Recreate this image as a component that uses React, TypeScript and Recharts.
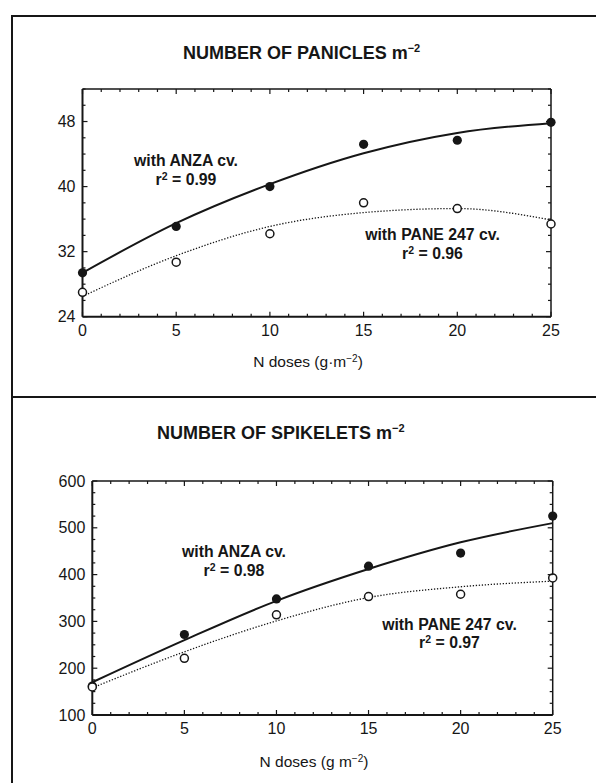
import { ComposedChart, Line, Scatter, XAxis, YAxis } from "recharts";

// N doses (g m-2)
const doses = [0, 5, 10, 15, 20, 25];

// panicles m-2 (points + fitted curves)
const anzaPanicles = [29.4, 35.1, 40.0, 45.2, 45.7, 47.9];
const panePanicles = [27.0, 30.7, 34.2, 38.0, 37.3, 35.4];
const anzaPaniclesFit = [29.4, 35.5, 40.3, 44.1, 46.6, 47.8];
const panePaniclesFit = [26.5, 31.5, 35.1, 36.8, 37.3, 35.9];

// spikelets m-2
const anzaSpikelets = [162, 272, 348, 418, 446, 525];
const paneSpikelets = [160, 221, 314, 353, 358, 393];
const anzaSpikeletsFit = [170, 260, 344, 412, 469, 510];
const paneSpikeletsFit = [158, 235, 301, 351, 374, 386];

// ticks
const doseTicks = [0, 1, 2, 3, 4, 5, 6, 7, 8, 9, 10, 11, 12, 13, 14, 15, 16, 17, 18, 19, 20, 21, 22, 23, 24, 25];
const doseLabels = [0, 5, 10, 15, 20, 25];
const panicleTicks = [24, 26, 28, 30, 32, 34, 36, 38, 40, 42, 44, 46, 48, 50, 52];
const panicleLabels = [24, 32, 40, 48];
const spikeletTicks = [100, 125, 150, 175, 200, 225, 250, 275, 300, 325, 350, 375, 400, 425, 450, 475, 500, 525, 550, 575, 600];
const spikeletLabels = [100, 200, 300, 400, 500, 600];

const ink = "#161616";
const font = "'Liberation Sans', Arial, Helvetica, sans-serif";

const pts = (ys: number[]) => doses.map((x, i) => ({ x, y: ys[i] }));

type Side = "bottom" | "top" | "left" | "right";

const makeTick = (side: Side, labels: number[]) => (props: any) => {
  const { x, y, payload } = props;
  const v = payload.value;
  const major = labels.includes(v);
  const len = major ? 5 : 3;
  const textStyle = { fontFamily: font, fontSize: 16, fill: ink };
  if (side === "bottom") {
    return (
      <g>
        <line x1={x} y1={y} x2={x} y2={y - len} stroke={ink} strokeWidth={1.2} />
        {major && (
          <text x={x} y={y + 19} textAnchor="middle" style={textStyle}>
            {v}
          </text>
        )}
      </g>
    );
  }
  if (side === "top") {
    return <line x1={x} y1={y} x2={x} y2={y + len} stroke={ink} strokeWidth={1.2} />;
  }
  if (side === "left") {
    return (
      <g>
        <line x1={x} y1={y} x2={x + len} y2={y} stroke={ink} strokeWidth={1.2} />
        {major && (
          <text x={x - 7} y={y + 5.5} textAnchor="end" style={textStyle}>
            {v}
          </text>
        )}
      </g>
    );
  }
  return <line x1={x} y1={y} x2={x - len} y2={y} stroke={ink} strokeWidth={1.2} />;
};

const filledDot = (p: any) => <circle cx={p.cx} cy={p.cy} r={4.6} fill={ink} />;
const openDot = (p: any) => (
  <circle cx={p.cx} cy={p.cy} r={4} fill="#fff" stroke={ink} strokeWidth={1.5} />
);

const axisLine = { stroke: ink, strokeWidth: 2 };

type PanelProps = {
  top: number;
  height: number;
  margin: { top: number; right: number; bottom: number; left: number };
  bottomAxisHeight: number;
  yDomain: [number, number];
  yTicks: number[];
  yLabels: number[];
  anza: number[];
  pane: number[];
  anzaFit: number[];
  paneFit: number[];
};

const Panel = (p: PanelProps) => (
  <div style={{ position: "absolute", left: 0, top: p.top }}>
    <ComposedChart width={596} height={p.height} margin={p.margin}>
      <XAxis
        type="number"
        dataKey="x"
        domain={[0, 25]}
        ticks={doseTicks}
        interval={0}
        tickSize={0}
        tickMargin={0}
        height={p.bottomAxisHeight}
        axisLine={axisLine}
        tick={makeTick("bottom", doseLabels)}
      />
      <XAxis
        xAxisId="top"
        orientation="top"
        type="number"
        dataKey="x"
        domain={[0, 25]}
        ticks={doseTicks}
        interval={0}
        tickSize={0}
        tickMargin={0}
        height={1}
        axisLine={{ stroke: ink, strokeWidth: 1.5 }}
        tick={makeTick("top", doseLabels)}
      />
      <YAxis
        type="number"
        dataKey="y"
        domain={p.yDomain}
        ticks={p.yTicks}
        interval={0}
        tickSize={0}
        tickMargin={0}
        width={40}
        axisLine={axisLine}
        tick={makeTick("left", p.yLabels)}
      />
      <YAxis
        yAxisId="right"
        orientation="right"
        type="number"
        dataKey="y"
        domain={p.yDomain}
        ticks={p.yTicks}
        interval={0}
        tickSize={0}
        tickMargin={0}
        width={1}
        axisLine={{ stroke: ink, strokeWidth: 1.5 }}
        tick={makeTick("right", p.yLabels)}
      />
      <Line
        xAxisId="top"
        yAxisId="right"
        data={pts(p.paneFit)}
        dataKey="y"
        stroke="none"
        dot={false}
        isAnimationActive={false}
      />
      <Line
        data={pts(p.anzaFit)}
        dataKey="y"
        type="monotone"
        stroke={ink}
        strokeWidth={2}
        dot={false}
        isAnimationActive={false}
      />
      <Line
        data={pts(p.paneFit)}
        dataKey="y"
        type="monotone"
        stroke={ink}
        strokeWidth={1.3}
        strokeDasharray="1.3 1.7"
        dot={false}
        isAnimationActive={false}
      />
      <Scatter data={pts(p.anza)} dataKey="y" shape={filledDot} isAnimationActive={false} />
      <Scatter data={pts(p.pane)} dataKey="y" shape={openDot} isAnimationActive={false} />
    </ComposedChart>
  </div>
);

const Note = ({ cx, cy, lines }: { cx: number; cy: number; lines: React.ReactNode[] }) => (
  <div
    style={{
      position: "absolute",
      left: cx - 110,
      top: cy - 9.25,
      width: 220,
      textAlign: "center",
      fontFamily: font,
      fontWeight: "bold",
      fontSize: 15.8,
      lineHeight: "18.5px",
      color: ink,
    }}
  >
    {lines.map((l, i) => (
      <div key={i}>{l}</div>
    ))}
  </div>
);

const r2 = (v: string) => (
  <>
    r<sup style={{ fontSize: 10.5, verticalAlign: "5px", lineHeight: 0 }}>2</sup> = {v}
  </>
);

const Title = ({ left, cy, text }: { left: number; cy: number; text: string }) => (
  <div
    style={{
      position: "absolute",
      left,
      top: cy - 11,
      fontFamily: font,
      fontWeight: "bold",
      fontSize: 18,
      lineHeight: "22px",
      color: ink,
      whiteSpace: "nowrap",
    }}
  >
    {text} m<sup style={{ fontSize: 11, verticalAlign: "7px", lineHeight: 0 }}>−2</sup>
  </div>
);

const AxisTitle = ({ cx, cy, sep }: { cx: number; cy: number; sep: string }) => (
  <div
    style={{
      position: "absolute",
      left: cx - 100,
      top: cy - 9,
      width: 200,
      textAlign: "center",
      fontFamily: font,
      fontSize: 15.5,
      lineHeight: "18px",
      color: ink,
    }}
  >
    N doses (g{sep}m<sup style={{ fontSize: 10, verticalAlign: "5px", lineHeight: 0 }}>−2</sup>)
  </div>
);

export default function App() {
  return (
    <div style={{ position: "absolute", left: 0, top: 0, width: 596, height: 783, background: "#fff", overflow: "hidden" }}>
      {/* figure frame */}
      <div style={{ position: "absolute", left: 11, top: 15, width: 1.5, height: 768, background: ink }} />
      <div style={{ position: "absolute", left: 11, top: 15, width: 585, height: 1.5, background: ink }} />
      <div style={{ position: "absolute", left: 11, top: 396, width: 585, height: 1.5, background: ink }} />

      <Panel
        top={0}
        height={395}
        margin={{ top: 88, right: 44, bottom: 40, left: 42.5 }}
        bottomAxisHeight={38.3}
        yDomain={[24, 52]}
        yTicks={panicleTicks}
        yLabels={panicleLabels}
        anza={anzaPanicles}
        pane={panePanicles}
        anzaFit={anzaPaniclesFit}
        paneFit={panePaniclesFit}
      />
      <Panel
        top={400}
        height={383}
        margin={{ top: 80, right: 42.3, bottom: 30, left: 52.3 }}
        bottomAxisHeight={38}
        yDomain={[100, 600]}
        yTicks={spikeletTicks}
        yLabels={spikeletLabels}
        anza={anzaSpikelets}
        pane={paneSpikelets}
        anzaFit={anzaSpikeletsFit}
        paneFit={paneSpikeletsFit}
      />

      <Title left={183} cy={53} text="NUMBER OF PANICLES" />
      <Title left={157} cy={433} text="NUMBER OF SPIKELETS" />

      <Note cx={186} cy={161.7} lines={["with ANZA cv.", r2("0.99")]} />
      <Note cx={432.5} cy={235.7} lines={["with PANE 247 cv.", r2("0.96")]} />
      <Note cx={234} cy={552.7} lines={["with ANZA cv.", r2("0.98")]} />
      <Note cx={449.5} cy={625} lines={["with PANE 247 cv.", r2("0.97")]} />

      <AxisTitle cx={308} cy={361.7} sep="·" />
      <AxisTitle cx={314} cy={761.7} sep=" " />
    </div>
  );
}
